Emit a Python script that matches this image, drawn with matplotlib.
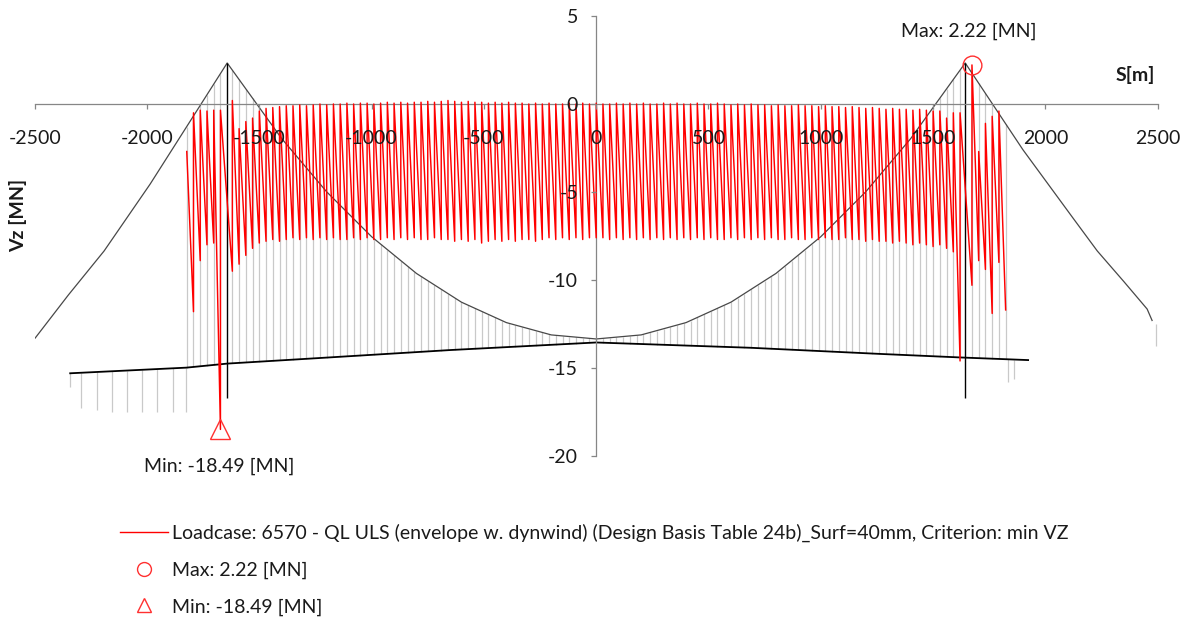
import numpy as np
import matplotlib
matplotlib.use("Agg")
import matplotlib.pyplot as plt
from matplotlib.lines import Line2D

plt.rcParams['font.family'] = ['Lato', 'DejaVu Sans']

# ---------------------------------------------------------------- structure
# main cable profile (station [m], level [MN scale])
cable_s = [-2498, -2350, -2191, -1986, -1643,
           -1400, -1200, -1000, -800, -600, -400, -200, 0,
           200, 400, 600, 800, 1000, 1200, 1400, 1643,
           1900, 2124, 2231, 2350, 2453, 2475]
cable_v = [-13.3, -10.85, -8.35, -4.55, 2.33,
           -1.97, -4.99, -7.54, -9.63, -11.26, -12.42, -13.12, -13.35,
           -13.12, -12.42, -11.26, -9.63, -7.54, -4.99, -1.97, 2.33,
           -2.6, -6.5, -8.35, -10.1, -11.65, -12.3]

# deck profile
deck_s = [-2342, -1825, -1643, -1318, -650, 0, 686, 1264, 1620, 1923]
deck_v = [-15.3, -14.98, -14.75, -14.5, -13.98, -13.55, -13.85, -14.2, -14.4, -14.55]

# towers
tower_s = [-1643, 1643]
tower_top = [2.33, 2.33]
tower_bottom = [-16.7, -16.7]

# approach piers
pier_s = [-2342, -2293, -2222, -2155, -2088, -2021, -1955, -1883, -1825, 1833, 1861]
pier_bottom = [-16.1, -17.25, -17.4, -17.5, -17.5, -17.5, -17.5, -17.5, -17.5, -15.8, -15.6]

# anchor block at the east end
anchor_s = [2493]
anchor_top = [-12.5]
anchor_bottom = [-13.75]

# ---------------------------------------------------------------- shear force
# hanger stations, value just left of each hanger (low) and just right (high)
side_w_s = [-1823, -1793, -1763, -1733, -1703, -1673]
side_w_low = [-2.7, -11.8, -8.9, -8.0, -7.9, -18.49]
side_w_high = [-2.7, -0.5, -0.35, -0.4, -0.35, -0.35]

main_s = np.arange(-1620, 1621, 30)
main_low = [
    -9.5, -9.1, -8.6, -8.2, -7.9, -7.8, -7.7, -7.8, -7.7, -7.6,
    -7.7, -7.6, -7.7, -7.6, -7.7, -7.6, -7.7, -7.7, -7.6, -7.7,
    -7.6, -7.7, -7.7, -7.6, -7.7, -7.6, -7.7, -7.6, -7.7, -7.7,
    -7.6, -7.7, -7.7, -7.8, -7.7, -7.8, -7.7, -7.9, -7.8, -7.7,
    -7.8, -7.7, -7.8, -7.7, -7.7, -7.8, -7.7, -7.6, -7.7, -7.6,
    -7.7, -7.6, -7.7, -7.6, -7.6, -7.6, -7.7, -7.6, -7.7, -7.6,
    -7.7, -7.6, -7.7, -7.6, -7.7, -7.6, -7.7, -7.6, -7.7, -7.6,
    -7.7, -7.6, -7.7, -7.7, -7.6, -7.7, -7.6, -7.7, -7.6, -7.7,
    -7.6, -7.7, -7.7, -7.6, -7.7, -7.7, -7.6, -7.7, -7.6, -7.7,
    -7.7, -7.6, -7.7, -7.7, -7.8, -7.7, -7.8, -7.8, -7.9, -7.8,
    -7.9, -8.0, -7.9, -8.0, -8.1, -8.0, -8.2, -8.4, -14.6,
]
main_high = [
    0.2, -1.4, -1.0, -0.8, -0.4, -0.25, -0.2, -0.15, -0.1, -0.1,
    -0.05, -0.1, -0.05, 0.0, -0.05, 0.0, 0.0, 0.05, 0.0, 0.05,
    0.05, 0.0, 0.05, 0.1, 0.05, 0.1, 0.05, 0.1, 0.1, 0.15,
    0.1, 0.15, 0.2, 0.15, 0.1, 0.15, 0.1, 0.1, 0.05, 0.1,
    0.05, 0.1, 0.05, 0.05, 0.0, 0.05, 0.0, 0.05, 0.0, 0.0,
    0.05, 0.0, 0.05, 0.0, 0.05, 0.0, 0.0, 0.05, 0.0, 0.05,
    0.0, 0.05, 0.0, 0.0, 0.05, 0.0, 0.05, 0.0, 0.0, 0.05,
    0.0, 0.0, 0.05, 0.0, -0.05, 0.0, -0.05, 0.0, -0.05, -0.05,
    -0.1, -0.05, -0.1, -0.1, -0.05, -0.1, -0.1, -0.15, -0.1, -0.15,
    -0.15, -0.2, -0.15, -0.2, -0.25, -0.2, -0.25, -0.3, -0.25, -0.3,
    -0.3, -0.35, -0.3, -0.35, -0.4, -0.4, -0.8, -0.5, -0.5,
]

side_e_s = [1673, 1703, 1733, 1763, 1793, 1823]
side_e_low = [-10.3, -8.9, -9.4, -11.9, -9.0, -11.7]
side_e_high = [2.22, -2.7, -1.1, -0.7, -0.4, -11.7]

x_ticks = [-2500, -2000, -1500, -1000, -500, 0, 500, 1000, 1500, 2000, 2500]
y_ticks = [5, 0, -5, -10, -15, -20]

legend_label = ("Loadcase: 6570 - QL ULS (envelope w. dynwind) "
                "(Design Basis Table 24b)_Surf=40mm, Criterion: min VZ")

# ---------------------------------------------------------------- figure
W, H = 1184, 621
fig = plt.figure(figsize=(W / 100, H / 100), dpi=100)
ax = fig.add_axes([34.7 / W, (H - 456) / H, 1123 / W, 440 / H])
ax.set_xlim(-2500, 2500)
ax.set_ylim(-20, 5)

axis_grey = '#868686'
text_col = '#1a1a1a'
tick_fs = 14
label_fs = 14

# hangers (main span and side spans)
hanger_s = np.concatenate([side_w_s, main_s, side_e_s])
h_top = np.interp(hanger_s, cable_s, cable_v)
h_bot = np.interp(hanger_s, deck_s, deck_v)
ax.vlines(hanger_s, h_bot, h_top, colors='#c9c9c9', lw=0.9, zorder=1)

# piers and anchor
ax.vlines(pier_s, np.interp(pier_s, deck_s, deck_v), pier_bottom,
          colors='#c9c9c9', lw=0.9, zorder=1)
ax.vlines(anchor_s, anchor_bottom, anchor_top, colors='#c9c9c9', lw=0.9, zorder=1)

# cable, deck, towers
ax.plot(cable_s, cable_v, color='#484848', lw=0.9, zorder=2)
ax.plot(deck_s, deck_v, color='#000000', lw=1.3, zorder=2)
ax.vlines(tower_s, tower_bottom, tower_top, colors='#000000', lw=1.0, zorder=2.2)

# shear force envelope: jump at every hanger, linear between hangers
st = np.concatenate([side_w_s, main_s, side_e_s])
lo = np.concatenate([side_w_low, main_low, side_e_low])
hi = np.concatenate([side_w_high, main_high, side_e_high])
vx = np.repeat(st, 2)
vy = np.column_stack([lo, hi]).ravel()
ax.plot(vx, vy, color='#ff0000', lw=1.05, zorder=3)

i_max = int(np.argmax(hi))
i_min = int(np.argmin(lo))
s_max, v_max = st[i_max], hi[i_max]
s_min, v_min = st[i_min], lo[i_min]

ax.plot([s_max], [v_max], marker='o', ms=13.5, mfc='none', mec='#ff3030',
        mew=1.0, ls='none', zorder=4)
ax.plot([s_min], [v_min], marker='^', ms=15, mfc='none', mec='#ff3030',
        mew=1.0, ls='none', zorder=4)
ax.annotate(f"Max: {v_max:.2f} [MN]", (s_max, v_max), xytext=(-2, 24.5),
            textcoords='offset points', ha='center', va='center',
            fontsize=label_fs, color=text_col)
ax.annotate(f"Min: {v_min:.2f} [MN]", (s_min, v_min), xytext=(-1, -26.5),
            textcoords='offset points', ha='center', va='center',
            fontsize=label_fs, color=text_col)

# axes through the origin
for side in ('top', 'right'):
    ax.spines[side].set_visible(False)
ax.spines['left'].set_position(('data', 0))
ax.spines['bottom'].set_position(('data', 0))
for side in ('left', 'bottom'):
    ax.spines[side].set_color(axis_grey)
    ax.spines[side].set_linewidth(0.9)
    ax.spines[side].set_zorder(2.5)

ax.set_xticks(x_ticks)
ax.set_yticks(y_ticks)
ax.set_xticklabels([str(t) for t in x_ticks])
ax.set_yticklabels([str(t) for t in y_ticks])
ax.tick_params(axis='x', direction='out', length=3.6, width=0.9, color=axis_grey,
               pad=15, labelsize=tick_fs, labelcolor=text_col)
ax.tick_params(axis='y', direction='out', length=3.6, width=0.9, color=axis_grey,
               pad=9.5, labelsize=tick_fs, labelcolor=text_col)
ax.xaxis.set_zorder(5)
ax.yaxis.set_zorder(5)
ax.patch.set_visible(False)

fig.text(1135 / W, 1 - 75 / H, "S[m]", fontsize=14, fontweight='bold',
         ha='center', va='center', color=text_col)
fig.text(18 / W, 1 - 215 / H, "Vz [MN]", fontsize=14, fontweight='bold',
         rotation=90, ha='center', va='center', color=text_col)

# legend
handles = [
    Line2D([], [], color='#ff0000', lw=1.0),
    Line2D([], [], marker='o', ms=10, mfc='none', mec='#ff3030', mew=1.0, ls='none'),
    Line2D([], [], marker='^', ms=10, mfc='none', mec='#ff3030', mew=1.0, ls='none'),
]
labels = [legend_label, f"Max: {v_max:.2f} [MN]", f"Min: {v_min:.2f} [MN]"]
fig.legend(handles, labels, loc='upper left', bbox_to_anchor=(120 / W, 1 - 524 / H),
           frameon=False, fontsize=14, handlelength=2.47, handletextpad=0.2,
           labelspacing=0.99, borderpad=0, borderaxespad=0, labelcolor=text_col)

fig.savefig("out.png", dpi=100)
